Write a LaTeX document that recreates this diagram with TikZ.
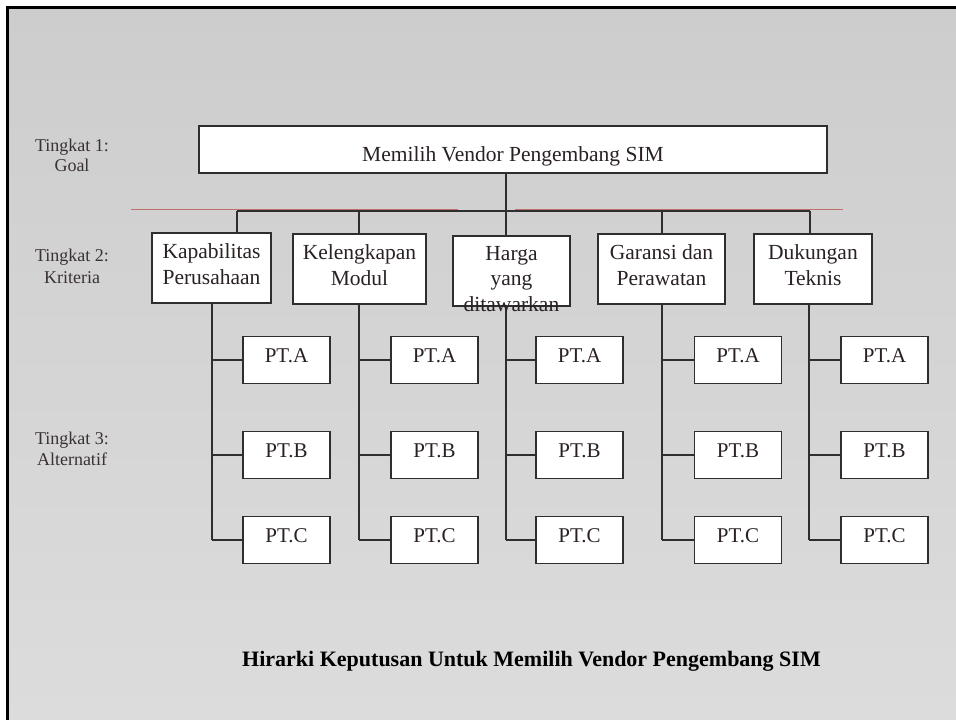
\documentclass[tikz,border=0pt]{standalone}
\usepackage{fontspec}
\setmainfont{Liberation Serif}

\definecolor{inkline}{HTML}{2E2E2E}
\definecolor{inktext}{HTML}{2A2222}
\definecolor{labeltext}{HTML}{3A3232}
\definecolor{busred}{RGB}{192,112,104}
\definecolor{paperA}{HTML}{CDCDCD}
\definecolor{paperB}{HTML}{DCDCDC}

\tikzset{
  boxbase/.style={draw=inkline, fill=white, line width=1.2pt, inner sep=0pt, text=inktext},
  goalbox/.style={boxbase, minimum width=628pt, minimum height=47pt,
    text height=35.5pt, text depth=11.5pt, font=\fontsize{21.5}{25.5}\selectfont},
  critbox/.style={boxbase, minimum height=70pt, align=center,
    text height=51pt, text depth=19pt, font=\fontsize{21.5}{25.5}\selectfont},
  crittext/.style={anchor=base, inner sep=0pt, align=center, text=inktext,
    font=\fontsize{21.5}{25.5}\selectfont},
  altbox/.style={boxbase, minimum width=87pt, minimum height=47pt,
    text height=25.5pt, text depth=21.5pt, font=\fontsize{21}{25}\selectfont},
  lvltext/.style={anchor=base, inner sep=0pt, text=labeltext, font=\fontsize{18}{20}\selectfont},
  wire/.style={draw=inkline, line width=1.2pt},
  redwire/.style={draw=busred, line width=0.9pt},
}

\begin{document}
\begin{tikzpicture}[x=1pt, y=-1pt]
  \useasboundingbox (0,0) rectangle (956,720);

  % paper and frame
  \fill[white] (0,0) rectangle (956,720);
  \shade[top color=paperA, bottom color=paperB] (8,8) rectangle (956,720);
  \draw[black, line width=2.6pt] (7.5,720) -- (7.5,7.5) -- (956,7.5);

  % level labels
  \node[lvltext] (L1a) at (72,151.7) {Tingkat 1:};
  \node[lvltext] (L1b) at (72,171.7) {Goal};
  \node[lvltext] (L2a) at (72,261.7) {Tingkat 2:};
  \node[lvltext] (L2b) at (72,283.3) {Kriteria};
  \node[lvltext] (L3a) at (72,444)   {Tingkat 3:};
  \node[lvltext] (L3b) at (72,465)   {Alternatif};

  % goal
  \node[goalbox] (G) at (513,149.5) {Memilih Vendor Pengembang SIM};

  % criteria
  \node[critbox, minimum width=119pt] (K1) at (211.5,268)   {Kapabilitas\\Perusahaan};
  \node[critbox, minimum width=133pt] (K2) at (359.5,269)   {Kelengkapan\\Modul};
  \node[boxbase, minimum width=117pt, minimum height=70pt] (K3) at (511.5,271) {};
  \node[critbox, minimum width=127pt] (K4) at (661.5,269)   {Garansi dan\\Perawatan};
  \node[critbox, minimum width=118pt] (K5) at (813,269)     {Dukungan\\Teknis};

  % bus points and trunk positions
  \coordinate (b1) at (237,211);
  \coordinate (b2) at (359,211);
  \coordinate (b3) at (506,211);
  \coordinate (b4) at (662,211);
  \coordinate (b5) at (810,211);
  \coordinate (t1) at (212,0);
  \coordinate (t2) at (359,0);
  \coordinate (t3) at (506,0);
  \coordinate (t4) at (662,0);
  \coordinate (t5) at (809,0);
  \coordinate (redL)  at (131,209.3);
  \coordinate (redM1) at (458,209.3);
  \coordinate (redM2) at (515,209.3);
  \coordinate (redR)  at (843,209.3);

  % red guide line behind the bus
  \draw[redwire] (redL) -- (redM1);
  \draw[redwire] (redM2) -- (redR);

  % goal to criteria
  \draw[wire] (G.south -| b3) -- (b3);
  \draw[wire] (b1) -- (b5);
  \foreach \i in {1,...,5} {
    \draw[wire] (b\i) -- (b\i |- K\i.north);
  }

  % alternatives
  \foreach \i/\x in {1/286.5, 2/434.5, 3/579.5, 4/738, 5/884.5} {
    \node[altbox] (A\i) at (\x,360) {PT.A};
    \node[altbox] (B\i) at (\x,455) {PT.B};
    \node[altbox] (C\i) at (\x,540) {PT.C};
    \draw[wire] (K\i.south -| t\i) -- (C\i.west -| t\i);
    \draw[wire] (A\i.west -| t\i) -- (A\i.west);
    \draw[wire] (B\i.west -| t\i) -- (B\i.west);
    \draw[wire] (C\i.west -| t\i) -- (C\i.west);
  }

  % the price criterion's text runs past the bottom of its box
  \node[crittext] (K3t) at (511.5,311) {Harga\\yang\\ditawarkan};

  % caption
  \node[anchor=base, inner sep=0pt, font=\fontsize{22}{26}\selectfont\bfseries] (T)
    at (531.5,666) {Hirarki Keputusan Untuk Memilih Vendor Pengembang SIM};
\end{tikzpicture}
\end{document}
